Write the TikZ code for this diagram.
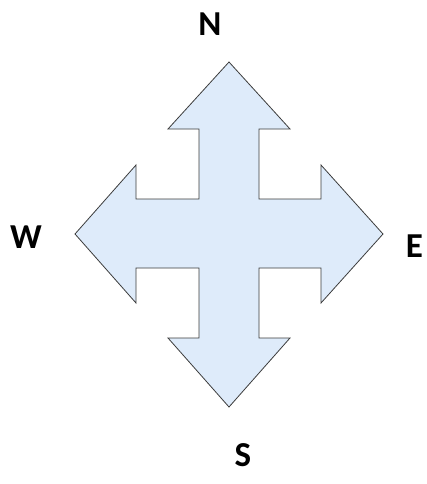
\documentclass[tikz,border=0pt]{standalone}
\usepackage{fontspec}
\setmainfont{Carlito}
\usepackage{xcolor}
\definecolor{paleblue}{RGB}{222, 235, 250}
\definecolor{edgegray}{RGB}{60, 60, 60}
\tikzset{
  dirlabel/.style={draw=none, font=\bfseries\fontsize{35}{40}\selectfont, inner sep=0pt}
}

\begin{document}
\begin{tikzpicture}[x=1pt, y=-1pt]
        % 画像の範囲
        \useasboundingbox (0,0) rectangle (427,484);
        % 十字の矢印（北から時計回り）
        \draw[thick, draw=edgegray, fill=paleblue, line join=miter]
            (229,62) -- (290,129) -- (259,129) -- (259,199) -- (321,199)
            -- (321,165) -- (383,234) -- (321,303) -- (321,268) -- (259,268)
            -- (259,338) -- (290,338) -- (229,407) -- (168,338) -- (199,338)
            -- (199,268) -- (136,268) -- (136,303) -- (75,234) -- (136,165)
            -- (136,199) -- (199,199) -- (199,129) -- (168,129) -- cycle;
        % 方位のラベル
        \node[dirlabel] (north) at (210, 24) {N};
        \node[dirlabel] (east) at (414.5, 246) {E};
        \node[dirlabel] (south) at (243, 455) {S};
        \node[dirlabel] (west) at (26, 237) {W};
    \end{tikzpicture}
\end{document}
